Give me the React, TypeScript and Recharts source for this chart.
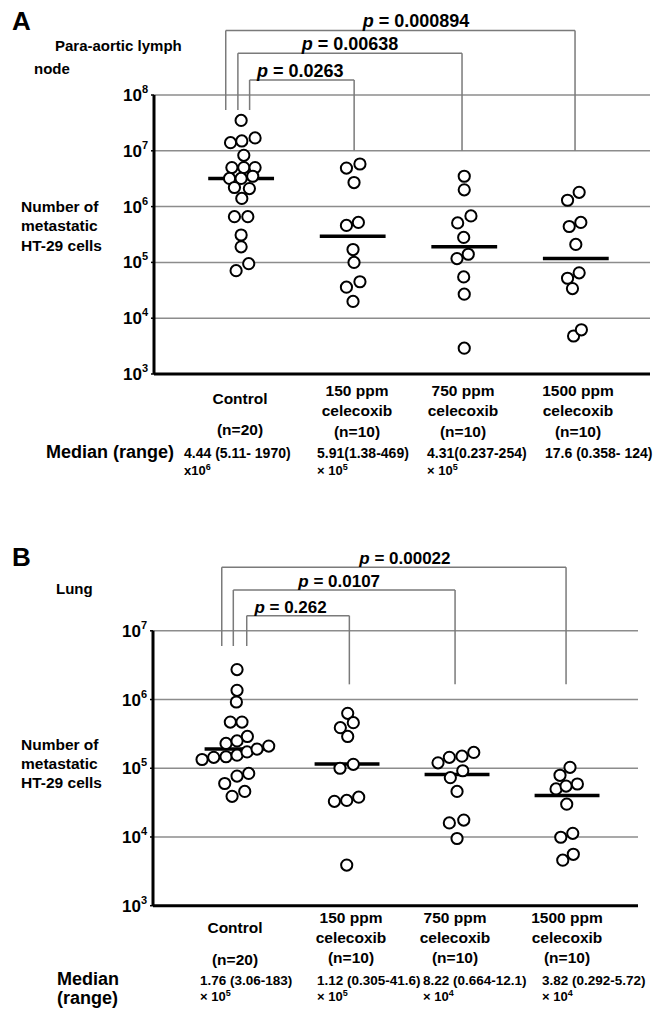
import React from 'react';
import { ScatterChart, Scatter, XAxis, YAxis, CartesianGrid, ReferenceLine } from 'recharts';

const FONT = '"Liberation Sans", Arial, Helvetica, sans-serif';

// ---------- shared categories ----------
const groupLabels = [['Control'], ['150 ppm', 'celecoxib'], ['750 ppm', 'celecoxib'], ['1500 ppm', 'celecoxib']];
const groupN = ['(n=20)', '(n=10)', '(n=10)', '(n=10)'];

// ---------- Panel A: para-aortic lymph node ----------
const lymphControl = [3.5e7, 1.4e7, 1.5e7, 1.7e7, 8.3e6, 5.0e6, 5.0e6, 5.0e6, 3.2e6, 3.2e6, 3.5e6, 2.2e6, 2.1e6, 1.4e6, 6.6e5, 6.6e5, 3.1e5, 1.9e5, 7.1e4, 9.5e4];
const lymphControlJitter = [0, -0.095, 0.006, 0.125, 0.024, -0.083, 0.024, 0.125, -0.104, 0, 0.104, -0.06, 0.074, 0.006, -0.06, 0.06, 0, 0, -0.045, 0.068];
const lymph150 = [4.9e6, 5.8e6, 2.7e6, 4.6e5, 5.2e5, 1.7e5, 1.0e5, 3.6e4, 4.5e4, 2.0e4];
const lymph150Jitter = [-0.056, 0.065, 0.012, -0.056, 0.051, 0.003, 0.012, -0.056, 0.065, 0.003];
const lymph750 = [3.5e6, 2.0e6, 5.1e5, 6.8e5, 2.8e5, 1.17e5, 1.4e5, 5.5e4, 2.7e4, 2.9e3];
const lymph750Jitter = [0, 0, -0.059, 0.06, -0.005, -0.065, 0.036, -0.005, 0, 0];
const lymph1500 = [1.3e6, 1.8e6, 4.4e5, 5.2e5, 2.1e5, 5.2e4, 6.5e4, 3.4e4, 4.8e3, 6.2e3];
const lymph1500Jitter = [-0.074, 0.03, -0.059, 0.045, 0, -0.074, 0.03, -0.03, -0.02, 0.05];
const lymphMedians = [3.2e6, 2.95e5, 1.9e5, 1.17e5];
const lymphTicks = [1e3, 1e4, 1e5, 1e6, 1e7, 1e8];
const lymphMedianText = ['4.44 (5.11- 1970)', '5.91(1.38-469)', '4.31(0.237-254)', '17.6 (0.358- 124)'];
const lymphMedianUnit: (string[] | null)[] = [['x10', '6'], ['\u00d7 10', '5'], ['\u00d7 10', '5'], null];
const lymphBrackets = [
  { p: '0.0263', from: 0.076, to: 1.013, top: 10 ** 8.269, leftEnd: 10 ** 7.731, rightEnd: 1e7, dx: -1.7 },
  { p: '0.00638', from: -0.029, to: 1.98, top: 10 ** 8.747, leftEnd: 10 ** 7.731, rightEnd: 1e7, dx: 0 },
  { p: '0.000894', from: -0.138, to: 2.993, top: 10 ** 9.156, leftEnd: 10 ** 7.731, rightEnd: 1e7, dx: 15.7 },
];

// ---------- Panel B: lung ----------
const lungControl = [2.73e6, 1.36e6, 9.2e5, 4.7e5, 4.7e5, 2.3e5, 2.5e5, 2.9e5, 1.34e5, 1.44e5, 1.47e5, 1.55e5, 1.73e5, 1.9e5, 2.1e5, 7.7e4, 8.4e4, 6.0e4, 3.9e4, 4.6e4];
const lungControlJitter = [0, 0, -0.006, -0.061, 0.045, -0.1, 0, 0.094, -0.318, -0.212, -0.1, 0, 0.091, 0.182, 0.288, 0, 0.106, -0.112, -0.045, 0.07];
const lung150 = [6.3e5, 4.6e5, 3.9e5, 2.9e5, 1.0e5, 1.14e5, 3.3e4, 3.4e4, 3.8e4, 3.9e3];
const lung150Jitter = [0.006, 0.057, -0.061, 0.006, -0.064, 0.057, -0.115, -0.003, 0.106, -0.003];
const lung750 = [1.2e5, 1.44e5, 1.5e5, 1.7e5, 9.2e4, 7.3e4, 4.6e4, 1.6e4, 1.76e4, 9.5e3];
const lung750Jitter = [-0.173, -0.07, 0.045, 0.152, 0.052, -0.061, 0, -0.07, 0.061, 0];
const lung1500 = [1.03e5, 7.9e4, 5.0e4, 5.5e4, 5.9e4, 3.0e4, 9.9e3, 1.13e4, 4.6e3, 5.6e3];
const lung1500Jitter = [0.027, -0.064, -0.1, -0.009, 0.094, -0.003, -0.057, 0.052, -0.039, 0.057];
const lungMedians = [1.9e5, 1.15e5, 8.1e4, 4.0e4];
const lungTicks = [1e3, 1e4, 1e5, 1e6, 1e7];
const lungMedianText = ['1.76 (3.06-183)', '1.12 (0.305-41.6)', '8.22 (0.664-12.1)', '3.82 (0.292-5.72)'];
const lungMedianUnit: (string[] | null)[] = [['\u00d7 10', '5'], ['\u00d7 10', '5'], ['\u00d7 10', '4'], ['\u00d7 10', '4']];
const lungBrackets = [
  { p: '0.262', from: 0.088, to: 1.021, top: 10 ** 7.22, leftEnd: 10 ** 6.779, rightEnd: 10 ** 6.221, dx: -7.5 },
  { p: '0.0107', from: -0.034, to: 1.982, top: 10 ** 7.594, leftEnd: 10 ** 6.779, rightEnd: 10 ** 6.221, dx: -5 },
  { p: '0.00022', from: -0.139, to: 2.991, top: 10 ** 7.924, leftEnd: 10 ** 6.779, rightEnd: 10 ** 6.221, dx: 11 },
];

type Pt = { x: number; y: number };
const toPoints = (vals: number[], jit: number[], g: number): Pt[] => vals.map((v, i) => ({ x: g + jit[i], y: v }));

const lymphGroups = [
  toPoints(lymphControl, lymphControlJitter, 0),
  toPoints(lymph150, lymph150Jitter, 1),
  toPoints(lymph750, lymph750Jitter, 2),
  toPoints(lymph1500, lymph1500Jitter, 3),
];
const lungGroups = [
  toPoints(lungControl, lungControlJitter, 0),
  toPoints(lung150, lung150Jitter, 1),
  toPoints(lung750, lung750Jitter, 2),
  toPoints(lung1500, lung1500Jitter, 3),
];

const Ring = (props: any) => {
  if (props.cx == null || props.cy == null) return null;
  return <circle cx={props.cx} cy={props.cy} r={5.6} fill="#fff" stroke="#000" strokeWidth={2} />;
};

const PowTick = (props: any) => {
  const { x, y, payload } = props;
  const e = Math.round(Math.log10(payload.value));
  return (
    <text x={x} y={y + 6} textAnchor="end" fontFamily={FONT} fontWeight={700} fontSize={17} fill="#000">
      <tspan>10</tspan>
      <tspan dy={-8} fontSize={11}>{e}</tspan>
    </text>
  );
};

type Bracket = { p: string; from: number; to: number; top: number; leftEnd: number; rightEnd: number; dx: number };

const GRID = '#8c8c8c';
const BR = '#7a7a7a';

function renderBrackets(brackets: Bracket[], fontSize: number) {
  const out: React.ReactNode[] = [];
  brackets.forEach((b, i) => {
    out.push(
      <ReferenceLine key={`bl${i}`} segment={[{ x: b.from, y: b.leftEnd }, { x: b.from, y: b.top }]} stroke={BR} strokeWidth={1.5} ifOverflow="visible" />
    );
    out.push(
      <ReferenceLine key={`br${i}`} segment={[{ x: b.to, y: b.rightEnd }, { x: b.to, y: b.top }]} stroke={BR} strokeWidth={1.5} ifOverflow="visible" />
    );
    out.push(
      <ReferenceLine
        key={`bt${i}`}
        segment={[{ x: b.from, y: b.top }, { x: b.to, y: b.top }]}
        stroke={BR}
        strokeWidth={1.5}
        ifOverflow="visible"
        label={{
          content: (lp: any) => {
            const vb = lp && lp.viewBox;
            if (!vb) return null;
            return (
              <text x={vb.x + (vb.width || 0) / 2 + b.dx} y={vb.y - 3} textAnchor="middle" fontFamily={FONT} fontWeight={700} fontSize={fontSize} fill="#000">
                <tspan fontStyle="italic">p</tspan>
                <tspan> = {b.p}</tspan>
              </text>
            );
          },
        }}
      />
    );
  });
  return out;
}

type PanelProps = {
  top: number;
  height: number;
  margin: { top: number; right: number; bottom: number; left: number };
  yAxisWidth: number;
  xDomain: [number, number];
  yDomain: [number, number];
  ticks: number[];
  groups: Pt[][];
  medians: number[];
  brackets: Bracket[];
  pFont: number;
};

function Panel(p: PanelProps) {
  return (
    <div style={{ position: 'absolute', left: 0, top: p.top, width: 665, height: p.height }}>
      <ScatterChart width={665} height={p.height} margin={p.margin} style={{ overflow: 'visible' }}>
        <CartesianGrid vertical={false} stroke={GRID} strokeWidth={1.5} />
        <XAxis
          type="number"
          dataKey="x"
          domain={p.xDomain}
          allowDataOverflow
          tick={false}
          tickLine={false}
          axisLine={{ stroke: '#000', strokeWidth: 3 }}
          height={20}
        />
        <YAxis
          type="number"
          dataKey="y"
          scale="log"
          domain={p.yDomain}
          allowDataOverflow
          ticks={p.ticks}
          interval={0}
          width={p.yAxisWidth}
          axisLine={{ stroke: '#000', strokeWidth: 3 }}
          tickLine={{ stroke: '#000', strokeWidth: 1.5 }}
          tickSize={3}
          tickMargin={3}
          tick={<PowTick />}
        />
        {p.groups.map((pts, gi) => (
          <Scatter key={`g${gi}`} data={pts} shape={Ring} isAnimationActive={false} />
        ))}
        {p.medians.map((m, gi) => (
          <ReferenceLine key={`m${gi}`} segment={[{ x: gi - 0.295, y: m }, { x: gi + 0.295, y: m }]} stroke="#000" strokeWidth={3.5} ifOverflow="visible" />
        ))}
        {renderBrackets(p.brackets, p.pFont)}
      </ScatterChart>
    </div>
  );
}

const T = (props: { x: number; y: number; size?: number; anchor?: 'start' | 'middle' | 'end'; children: React.ReactNode; weight?: number }) => (
  <text
    x={props.x}
    y={props.y}
    fontFamily={FONT}
    fontWeight={props.weight ?? 700}
    fontSize={props.size ?? 15}
    textAnchor={props.anchor ?? 'start'}
    fill="#000"
  >
    {props.children}
  </text>
);

const lymphCenters = [240, 357, 463, 578];
const lungCenters = [235, 351, 455, 567];
const lymphValueX = [184, 317, 427, 545];
const lungValueX = [200, 317, 423, 542];

function Overlay() {
  return (
    <svg width={665} height={1016} style={{ position: 'absolute', left: 0, top: 0, pointerEvents: 'none' }}>
      {/* Panel A */}
      <T x={12} y={30} size={26}>A</T>
      <T x={55} y={51}>Para-aortic lymph</T>
      <T x={34} y={74}>node</T>
      <T x={21} y={212} size={15.5}>Number of</T>
      <T x={21} y={231} size={15.5}>metastatic</T>
      <T x={21} y={251} size={15.5}>HT-29 cells</T>
      {groupLabels.map((lines, i) =>
        lines.length === 1 ? (
          <T key={`al${i}`} x={lymphCenters[i]} y={404} anchor="middle" size={15.5}>{lines[0]}</T>
        ) : (
          <g key={`al${i}`}>
            <T x={lymphCenters[i]} y={396} anchor="middle" size={15.5}>{lines[0]}</T>
            <T x={lymphCenters[i]} y={416} anchor="middle" size={15.5}>{lines[1]}</T>
          </g>
        )
      )}
      {groupN.map((n, i) => (
        <T key={`an${i}`} x={lymphCenters[i]} y={i === 0 ? 435 : 437} anchor="middle" size={15.5}>{n}</T>
      ))}
      <T x={46} y={458} size={18}>Median (range)</T>
      {lymphMedianText.map((s, i) => (
        <T key={`av${i}`} x={lymphValueX[i]} y={458} size={14}>{s}</T>
      ))}
      {lymphMedianUnit.map((u, i) =>
        u ? (
          <text key={`au${i}`} x={lymphValueX[i]} y={475} fontFamily={FONT} fontWeight={700} fontSize={13} fill="#000">
            <tspan>{u[0]}</tspan>
            <tspan dy={-5} fontSize={9}>{u[1]}</tspan>
          </text>
        ) : null
      )}

      {/* Panel B */}
      <T x={12} y={566} size={26}>B</T>
      <T x={56} y={594}>Lung</T>
      <T x={21} y={750} size={15.5}>Number of</T>
      <T x={21} y={769} size={15.5}>metastatic</T>
      <T x={21} y={788} size={15.5}>HT-29 cells</T>
      {groupLabels.map((lines, i) =>
        lines.length === 1 ? (
          <T key={`bl${i}`} x={lungCenters[i]} y={933} anchor="middle" size={15.5}>{lines[0]}</T>
        ) : (
          <g key={`bl${i}`}>
            <T x={lungCenters[i]} y={923} anchor="middle" size={15.5}>{lines[0]}</T>
            <T x={lungCenters[i]} y={943} anchor="middle" size={15.5}>{lines[1]}</T>
          </g>
        )
      )}
      {groupN.map((n, i) => (
        <T key={`bn${i}`} x={lungCenters[i]} y={i === 0 ? 965 : 963} anchor="middle" size={15.5}>{n}</T>
      ))}
      <T x={57} y={985} size={18}>Median</T>
      <T x={57} y={1004} size={18}>(range)</T>
      {lungMedianText.map((s, i) => (
        <T key={`bv${i}`} x={lungValueX[i]} y={985} size={13.5}>{s}</T>
      ))}
      {lungMedianUnit.map((u, i) =>
        u ? (
          <text key={`bu${i}`} x={lungValueX[i]} y={1001} fontFamily={FONT} fontWeight={700} fontSize={13} fill="#000">
            <tspan>{u[0]}</tspan>
            <tspan dy={-5} fontSize={9}>{u[1]}</tspan>
          </text>
        ) : null
      )}
    </svg>
  );
}

export default function App() {
  return (
    <div style={{ position: 'absolute', left: 0, top: 0, width: 665, height: 1016, background: '#fff', overflow: 'hidden' }}>
      <Panel
        top={0}
        height={508}
        margin={{ top: 95, right: 15, bottom: 114, left: 0 }}
        yAxisWidth={154}
        xDomain={[-0.781, 3.665]}
        yDomain={[1e3, 1e8]}
        ticks={lymphTicks}
        groups={lymphGroups}
        medians={lymphMedians}
        brackets={lymphBrackets}
        pFont={18}
      />
      <Panel
        top={508}
        height={508}
        margin={{ top: 122.8, right: 27, bottom: 90.3, left: 0 }}
        yAxisWidth={153}
        xDomain={[-0.764, 3.645]}
        yDomain={[1e3, 1e7]}
        ticks={lungTicks}
        groups={lungGroups}
        medians={lungMedians}
        brackets={lungBrackets}
        pFont={17}
      />
      <Overlay />
    </div>
  );
}
